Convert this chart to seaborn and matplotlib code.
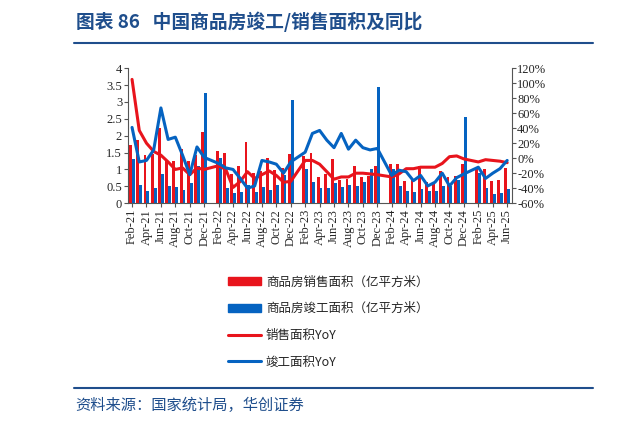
import numpy as np
import pandas as pd
import matplotlib
matplotlib.use("Agg")
import matplotlib.pyplot as plt
from matplotlib.lines import Line2D
from matplotlib.patches import Patch
import seaborn as sns

months = pd.date_range("2021-02-01", "2025-06-01", freq="MS").strftime("%b-%y").tolist()
nan = np.nan

# 商品房销售面积 (亿平方米)
sales = [1.72, 1.87, 1.42, 1.47, 2.22, 1.27, 1.25, 1.60, 1.25, 1.42, 2.10,
         nan, 1.55, 1.50, 0.86, 1.10, 1.80, 0.90, 0.95, 1.35, 0.97, 1.03, 1.45,
         nan, 1.40, 1.48, 0.77, 0.87, 1.30, 0.70, 0.73, 1.10, 0.77, 0.80, 1.10,
         nan, 1.15, 1.15, 0.67, 0.70, 1.10, 0.63, 0.60, 0.95, 0.77, 0.80, 1.15,
         nan, 1.05, 1.00, 0.65, 0.70, 1.03]
# 商品房竣工面积 (亿平方米)
completed = [1.30, 0.53, 0.35, 0.45, 0.87, 0.50, 0.47, 0.40, 0.60, 1.10, 3.26,
             nan, 1.35, 0.45, 0.30, 0.32, 0.55, 0.32, 0.47, 0.38, 0.55, 0.83, 3.05,
             nan, 1.00, 0.62, 0.45, 0.45, 0.60, 0.47, 0.53, 0.50, 0.62, 1.00, 3.44,
             nan, 1.00, 0.50, 0.37, 0.33, 0.43, 0.35, 0.35, 0.52, 0.52, 0.70, 2.55,
             nan, 0.88, 0.45, 0.28, 0.30, 0.43]
# 销售面积YoY (%)
sales_yoy = [105, 37, 20, 9, 4, -5, -15, -13, -22, -13, -15,
             nan, -10, -15, -39, -31, -18, -27, -22, -17, -23, -32, -31,
             nan, -3, -3, -8, -18, -28, -25, -25, -20, -20, -21, -22,
             nan, -25, -21, -14, -14, -12, -12, -12, -7, 2, 3, -1,
             nan, -5, -2, -3, -4, -6]
# 竣工面积YoY (%)
comp_yoy = [41, -5, -3, 11, 67, 25, 28, 4, -22, 15, 1,
            nan, -7, -13, -15, -27, -40, -37, -3, -5, -8, -20, -5,
            nan, 8, 33, 37, 24, 14, 33, 12, 24, 14, 11, 13,
            nan, -23, -16, -18, -30, -23, -37, -32, -20, -37, -26, -21,
            nan, -12, -27, -20, -14, -3]

RED = "#E8141C"
BLUE = "#0563C1"
NAVY = "#1F4E8C"

df = pd.DataFrame({"month": months, "sales": sales, "completed": completed,
                   "sales_yoy": sales_yoy, "comp_yoy": comp_yoy})
df["idx"] = np.arange(len(df))
bars = df.melt(id_vars="month", value_vars=["sales", "completed"],
               var_name="series", value_name="value")

sns.set_style("white")
plt.rcParams["font.family"] = ["Liberation Serif", "Noto Sans CJK SC", "DejaVu Sans"]

fig = plt.figure(figsize=(6.2, 4.26), dpi=100)
ax = fig.add_axes([0.206, 0.523, 0.619, 0.317])
sns.barplot(data=bars, x="month", y="value", hue="series", order=months,
            hue_order=["sales", "completed"], palette=[RED, BLUE],
            width=0.8, legend=False, ax=ax, errorbar=None, linewidth=0,
            saturation=1)
ax.set_ylim(0, 4)
ax.set_yticks(np.arange(0, 4.01, 0.5))
ax.set_yticklabels(["0", "0.5", "1", "1.5", "2", "2.5", "3", "3.5", "4"])
ax.set_xlim(-0.6, len(months) - 0.4)
ax.set_xticks(range(0, len(months), 2))
ax.set_xticklabels(months[::2], rotation=90)
ax.set_xlabel("")
ax.set_ylabel("")

ax2 = ax.twinx()
line_df = df.dropna(subset=["sales_yoy"])
sns.lineplot(data=line_df, x="idx", y="sales_yoy", color=RED, lw=2.2, ax=ax2)
line_df = df.dropna(subset=["comp_yoy"])
sns.lineplot(data=line_df, x="idx", y="comp_yoy", color=BLUE, lw=2.2, ax=ax2)
ax2.set_ylim(-60, 120)
ax2.set_yticks(range(-60, 121, 20))
ax2.set_yticklabels([f"{v}%" for v in range(-60, 121, 20)])
ax2.set_xlim(-0.6, len(months) - 0.4)
ax2.set_xlabel("")
ax2.set_ylabel("")

for a in (ax, ax2):
    for s in a.spines.values():
        s.set_visible(False)
    a.tick_params(labelsize=9, length=3, width=0.8, color="#555555", pad=1)
ax.spines["left"].set_visible(True)
ax.spines["bottom"].set_visible(True)
ax2.spines["right"].set_visible(True)
for s in (ax.spines["left"], ax.spines["bottom"], ax2.spines["right"]):
    s.set_color("#555555")
    s.set_linewidth(0.8)
ax.tick_params(axis="both", direction="out", left=True, bottom=True)
ax2.tick_params(axis="y", direction="out", right=True)

handles = [Patch(color=RED), Patch(color=BLUE),
           Line2D([], [], color=RED, lw=2.2), Line2D([], [], color=BLUE, lw=2.2)]
labels = ["商品房销售面积（亿平方米）", "商品房竣工面积（亿平方米）", "销售面积YoY", "竣工面积YoY"]
fig.legend(handles, labels, loc="upper left", bbox_to_anchor=(0.35, 0.38),
           frameon=False, labelspacing=1.1, handlelength=2.6,
           handleheight=0.6, handletextpad=0.4,
           prop={"family": ["Noto Sans CJK SC"], "size": 9})

fig.text(0.122, 0.948, "图表 86   中国商品房竣工/销售面积及同比", fontsize=13.5,
         fontweight="bold", color=NAVY, va="center",
         family=["Noto Sans CJK SC", "DejaVu Sans"])
fig.add_artist(Line2D([0.12, 0.956], [0.898, 0.898], color=NAVY, lw=1.5))
fig.add_artist(Line2D([0.12, 0.956], [0.09, 0.09], color=NAVY, lw=1.5))
fig.text(0.122, 0.048, "资料来源：国家统计局，华创证券", fontsize=11, color=NAVY,
         style="italic", va="center", family=["Noto Sans CJK SC", "DejaVu Sans"])

fig.savefig("out.png", dpi=100)
